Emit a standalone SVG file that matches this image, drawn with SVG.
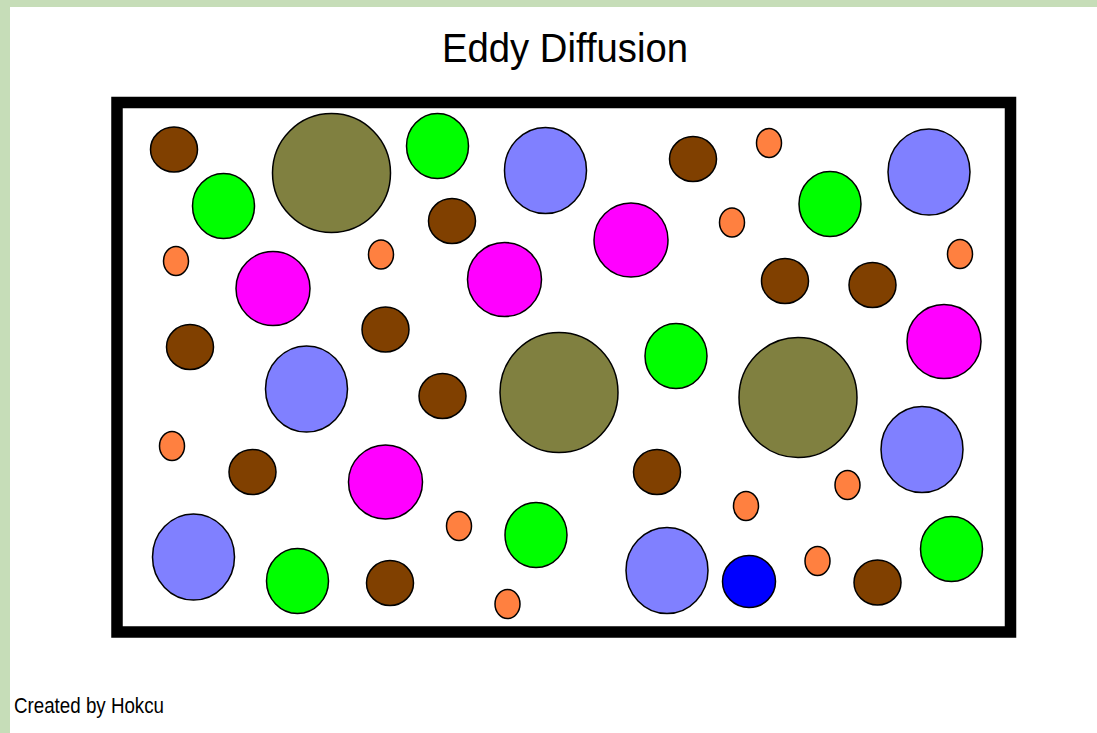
<svg xmlns="http://www.w3.org/2000/svg" width="1097" height="733" viewBox="0 0 1097 733">
<style>
.t{font-family:"Liberation Sans",Arial,sans-serif;fill:#000}
ellipse{stroke:#000;stroke-width:1.5}
.br{fill:#804000}.or{fill:#FF8040}.gr{fill:#00FF00}.bp{fill:#8080FF}.mg{fill:#FF00FF}.ol{fill:#808040}.bl{fill:#0000FF}
</style>
<rect x="0" y="0" width="1097" height="733" fill="#c6ddb8"/>
<rect x="10" y="7" width="1087" height="726" fill="#fff"/>
<text class="t" x="442" y="62" font-size="40" textLength="246" lengthAdjust="spacingAndGlyphs">Eddy Diffusion</text>
<text class="t" x="14" y="713" font-size="22" textLength="150" lengthAdjust="spacingAndGlyphs">Created by Hokcu</text>
<g id="frame"><rect x="117" y="102.5" width="893.5" height="529.5" fill="#fff" stroke="#000" stroke-width="11.5"/></g>
<g id="particles">
<ellipse class="br" cx="174" cy="149.5" rx="23.5" ry="22.5"/>
<ellipse class="br" cx="452" cy="221" rx="23.5" ry="22.5"/>
<ellipse class="br" cx="693" cy="159" rx="23.5" ry="22.5"/>
<ellipse class="br" cx="785" cy="281" rx="23.5" ry="22.5"/>
<ellipse class="br" cx="872.5" cy="285" rx="23.5" ry="22.5"/>
<ellipse class="br" cx="190" cy="347" rx="23.5" ry="22.5"/>
<ellipse class="br" cx="385.5" cy="329.5" rx="23.5" ry="22.5"/>
<ellipse class="br" cx="442.5" cy="396" rx="23.5" ry="22.5"/>
<ellipse class="br" cx="252.5" cy="472" rx="23.5" ry="22.5"/>
<ellipse class="br" cx="657" cy="472" rx="23.5" ry="22.5"/>
<ellipse class="br" cx="390" cy="583" rx="23.5" ry="22.5"/>
<ellipse class="br" cx="877.5" cy="582.5" rx="23.5" ry="22.5"/>
<ellipse class="or" cx="769" cy="143" rx="12.5" ry="14.5"/>
<ellipse class="or" cx="732" cy="222.5" rx="12.5" ry="14.5"/>
<ellipse class="or" cx="176" cy="261" rx="12.5" ry="14.5"/>
<ellipse class="or" cx="381" cy="254.5" rx="12.5" ry="14.5"/>
<ellipse class="or" cx="960" cy="254" rx="12.5" ry="14.5"/>
<ellipse class="or" cx="172" cy="446" rx="12.5" ry="14.5"/>
<ellipse class="or" cx="847.5" cy="485" rx="12.5" ry="14.5"/>
<ellipse class="or" cx="746" cy="506" rx="12.5" ry="14.5"/>
<ellipse class="or" cx="459" cy="526" rx="12.5" ry="14.5"/>
<ellipse class="or" cx="817.5" cy="561" rx="12.5" ry="14.5"/>
<ellipse class="or" cx="507.5" cy="604" rx="12.5" ry="14.5"/>
<ellipse class="gr" cx="437.5" cy="146" rx="31" ry="32.5"/>
<ellipse class="gr" cx="223.5" cy="206" rx="31" ry="32.5"/>
<ellipse class="gr" cx="830" cy="204" rx="31" ry="32.5"/>
<ellipse class="gr" cx="676" cy="356" rx="31" ry="32.5"/>
<ellipse class="gr" cx="536" cy="535" rx="31" ry="32.5"/>
<ellipse class="gr" cx="297.5" cy="581" rx="31" ry="32.5"/>
<ellipse class="gr" cx="951.5" cy="549" rx="31" ry="32.5"/>
<ellipse class="bp" cx="545.5" cy="170.5" rx="41" ry="43"/>
<ellipse class="bp" cx="929" cy="172" rx="41" ry="43"/>
<ellipse class="bp" cx="306.5" cy="389" rx="41" ry="43"/>
<ellipse class="bp" cx="922" cy="449.5" rx="41" ry="43"/>
<ellipse class="bp" cx="193.5" cy="557" rx="41" ry="43"/>
<ellipse class="bp" cx="667" cy="570.5" rx="41" ry="43"/>
<ellipse class="mg" cx="631" cy="240" rx="37" ry="37"/>
<ellipse class="mg" cx="273" cy="288.5" rx="37" ry="37"/>
<ellipse class="mg" cx="504.5" cy="279.5" rx="37" ry="37"/>
<ellipse class="mg" cx="944" cy="341.5" rx="37" ry="37"/>
<ellipse class="mg" cx="385.5" cy="482" rx="37" ry="37"/>
<ellipse class="ol" cx="331.5" cy="173" rx="59" ry="59.5"/>
<ellipse class="ol" cx="559" cy="392.5" rx="59" ry="60"/>
<ellipse class="ol" cx="798" cy="397.5" rx="59" ry="60"/>
<ellipse class="bl" cx="749" cy="581.5" rx="26.5" ry="26"/>
</g>
</svg>
